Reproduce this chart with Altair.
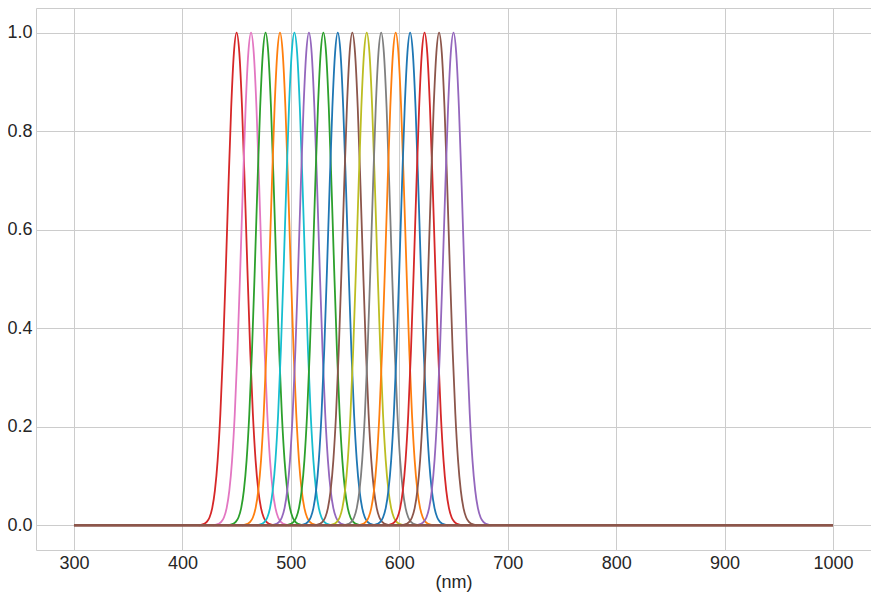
import altair as alt
import pandas as pd

# Peak centres (nm), in drawing order
centers = [450.0, 463.3, 476.7, 490.0, 503.3, 516.7, 530.0, 543.3,
           556.7, 570.0, 583.3, 596.7, 610.0, 623.3, 636.7, 650.0]
colors = ["#d62728", "#e377c2", "#2ca02c", "#ff7f0e", "#17becf", "#9467bd",
          "#2ca02c", "#1f77b4", "#8c564b", "#bcbd22", "#7f7f7f", "#ff7f0e",
          "#1f77b4", "#d62728", "#8c564b", "#9467bd"]

# Shape of one band (offset from centre in nm, relative height)
profile_offsets = [-35, -30, -27.5, -25, -22.5, -20, -17.5, -15, -12.5, -10, -7.5, -5, -2.5, 0,
                   2.5, 5, 7.5, 10, 12.5, 15, 17.5, 20, 22.5, 25, 27.5, 30, 35]
profile_values = [0.0, 0.003, 0.007, 0.016, 0.035, 0.071, 0.132, 0.226, 0.356, 0.517, 0.690, 0.848, 0.959, 1.0,
                  0.959, 0.848, 0.690, 0.517, 0.356, 0.226, 0.132, 0.071, 0.035, 0.016, 0.007, 0.003, 0.0]

baseline_nm = [300, 1000]
baseline_val = [0.0, 0.0]

x_ticks = [300, 400, 500, 600, 700, 800, 900, 1000]
y_ticks = [0.0, 0.2, 0.4, 0.6, 0.8, 1.0]

names = [f"band{i:02d}" for i in range(len(centers))]
rows = []
for name, c in zip(names, centers):
    for o, v in zip(profile_offsets, profile_values):
        rows.append({"band": name, "nm": c + o, "value": v})
df = pd.DataFrame(rows)
base_df = pd.DataFrame({"nm": baseline_nm, "value": baseline_val})

x_scale = alt.Scale(domain=[265, 1035], nice=False, zero=False)
y_scale = alt.Scale(domain=[-0.05, 1.05], nice=False, zero=False)

x_axis = alt.Axis(values=x_ticks, format="d", title="(nm)", labelPadding=4,
                  titleFontSize=18, titlePadding=1, titleFontWeight="normal")
y_axis = alt.Axis(values=y_ticks, format=".1f", title=None, labelPadding=4)

curves = alt.Chart(df).mark_line(strokeWidth=1.8, interpolate="monotone").encode(
    x=alt.X("nm:Q", scale=x_scale, axis=x_axis),
    y=alt.Y("value:Q", scale=y_scale, axis=y_axis),
    color=alt.Color("band:N", scale=alt.Scale(domain=names, range=colors), legend=None),
)

base = alt.Chart(base_df).mark_line(strokeWidth=2.8, color="#8c564b").encode(
    x=alt.X("nm:Q", scale=x_scale),
    y=alt.Y("value:Q", scale=y_scale),
)

chart = alt.layer(curves, base).properties(
    width=835, height=542,
    autosize=alt.AutoSizeParams(type="none"),
    padding={"left": 28, "top": 0, "right": 0, "bottom": 43},
).configure_view(
    stroke="#cccccc", strokeWidth=1
).configure_axis(
    grid=True, gridColor="#cccccc", gridWidth=1, domain=False, ticks=False,
    labelFont="Liberation Sans", labelFontSize=18, labelColor="#262626",
    titleFont="Liberation Sans", titleColor="#262626",
)

chart.save("out.html", embed_options={"renderer": "svg", "actions": False})
